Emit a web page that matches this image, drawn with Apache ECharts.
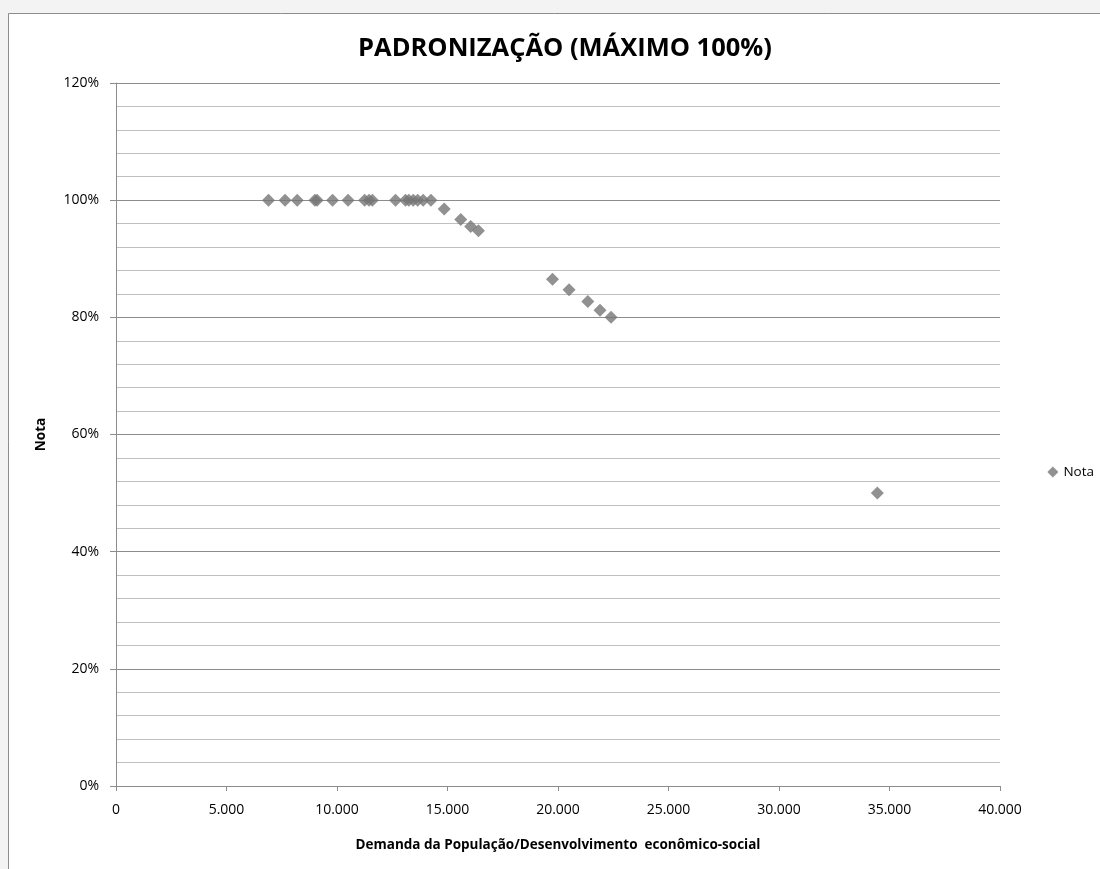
<!DOCTYPE html>
<html><head><meta charset="utf-8">
<script src="https://cdn.jsdelivr.net/npm/echarts@6/dist/echarts.min.js"></script>
<style>html,body{margin:0;padding:0;background:#f3f3f3;}#c{width:1100px;height:869px;}</style>
</head><body><div id="c"></div>
<script>
const demanda = [6900, 7650, 8200, 9000, 9100, 9800, 10500, 11250, 11450, 11600, 12650, 13100, 13250, 13450, 13650, 13900, 14250, 14850, 15600, 16050, 16400, 19750, 20500, 21350, 21900, 22400, 34450];
const nota = [100, 100, 100, 100, 100, 100, 100, 100, 100, 100, 100, 100, 100, 100, 100, 100, 100, 98.5, 96.7, 95.5, 94.8, 86.5, 84.7, 82.7, 81.2, 80.0, 50];
const titulo = 'PADRONIZAÇÃO (MÁXIMO 100%)';
const eixoX = 'Demanda da População/Desenvolvimento  econômico-social';
const eixoY = 'Nota';
const serieNome = 'Nota';

const font = '"Open Sans", "Liberation Sans", sans-serif';
const chart = echarts.init(document.getElementById('c'));
chart.setOption({
  backgroundColor: 'transparent',
  animation: false,
  graphic: [{type:'rect', z:-10, shape:{x:8.5,y:13.5,width:1120,height:900}, style:{fill:'#ffffff', stroke:'#8c8c8c', lineWidth:1}}],
  title: {text: titulo, left: 560, top: 31, textAlign:'center',
    textStyle:{fontFamily:font, fontWeight:'bold', fontSize:25.5, color:'#000'}},
  grid: {left:116, right:100, top:83, bottom:83},
  legend: {right: 1, top: 460, itemWidth:11, itemHeight:11, itemGap:4, textStyle:{fontFamily:font, fontSize:13.5, color:'#000'}, data:[{name:serieNome, icon:'diamond'}]},
  xAxis: {type:'value', min:0, max:40000, interval:5000,
    name: eixoX, nameLocation:'middle', nameGap:52,
    nameTextStyle:{fontFamily:font, fontWeight:'bold', fontSize:13.5, color:'#000'},
    axisLine:{show:true, onZero:false, lineStyle:{color:'#8c8c8c'}},
    axisTick:{show:true, length:5, lineStyle:{color:'#8c8c8c'}},
    axisLabel:{fontFamily:font, fontSize:14, color:'#000', margin:17,
      formatter: v => v === 0 ? '0' : v.toLocaleString('de-DE')},
    splitLine:{show:false}},
  yAxis: {type:'value', min:0, max:120, interval:20,
    name: eixoY, nameLocation:'middle', nameGap:68, nameRotate:90,
    nameTextStyle:{fontFamily:font, fontWeight:'bold', fontSize:13.5, color:'#000'},
    axisLine:{show:true, lineStyle:{color:'#8c8c8c'}},
    axisTick:{show:true, length:6, lineStyle:{color:'#8c8c8c'}},
    axisLabel:{fontFamily:font, fontSize:14, color:'#000', margin:17, formatter:'{value}%'},
    splitLine:{show:true, lineStyle:{color:'#8c8c8c', width:1}},
    minorTick:{show:false, splitNumber:5},
    minorSplitLine:{show:true, lineStyle:{color:'#c0c0c0', width:1}}},
  series: [{name: serieNome, type:'scatter', symbol:'diamond', symbolSize:13,
    itemStyle:{color:'#767676'},
    data: demanda.map((x,i)=>[x, nota[i]])}]
});
</script></body></html>
